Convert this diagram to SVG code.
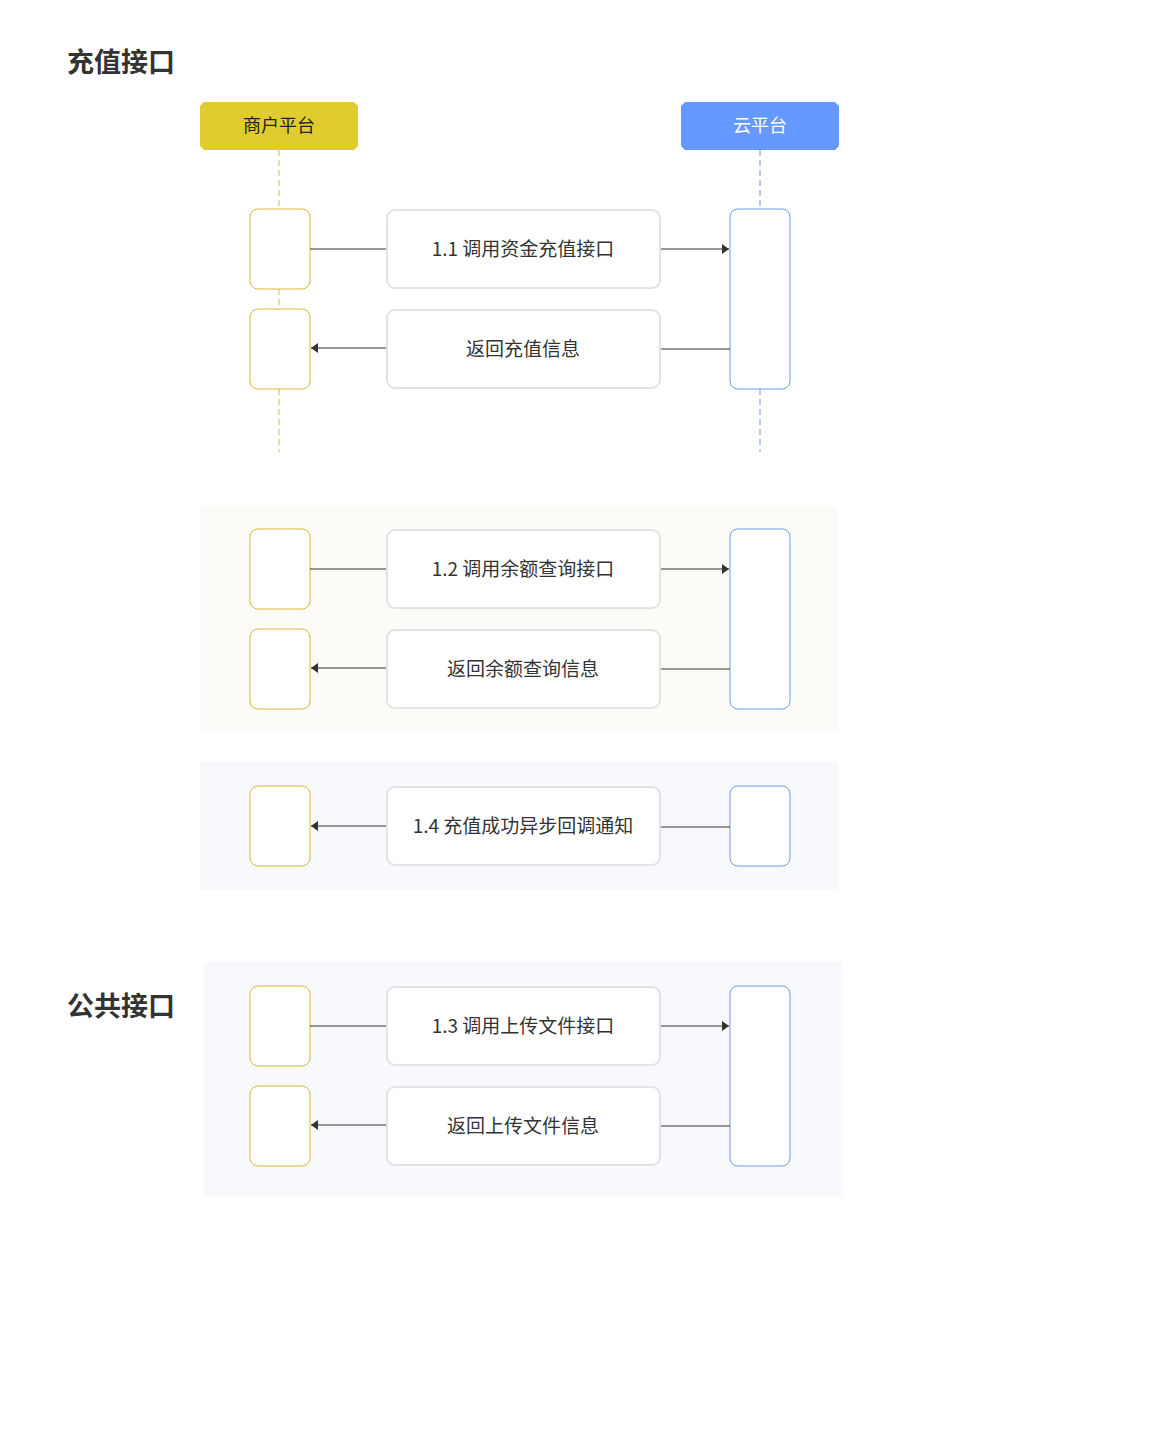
<svg xmlns="http://www.w3.org/2000/svg" width="1167" height="1455" viewBox="0 0 1167 1455">
<style>
text{font-family:"Noto Sans CJK SC","Noto Sans",sans-serif;}
.t{font-size:27px;font-weight:bold;fill:#333}
.m{fill:#fff;stroke:#e3e3e3;stroke-width:2}
.ml{font-size:19px;fill:#333;text-anchor:middle}
.y{fill:#fff;stroke:#d9b73a;stroke-width:1}
.b{fill:#fff;stroke:#6f9be8;stroke-width:1}
.c{stroke:#333;stroke-width:1;fill:none}
</style>
<defs><marker id="a" markerWidth="8" markerHeight="10" refX="7" refY="5" orient="auto" markerUnits="userSpaceOnUse"><path d="M0,0L7,5L0,10z" fill="#333"/></marker></defs>
<rect width="1167" height="1455" fill="#fff"/>
<text class="t" x="67" y="72">充值接口</text>
<text class="t" x="67" y="1016">公共接口</text>
<rect x="200" y="506" width="638" height="226" fill="#fcfbf7"/>
<rect x="200" y="762" width="638" height="128" fill="#f8f9fd"/>
<rect x="204" y="962" width="638" height="234" fill="#f8f9fd"/>
<g id="merchant"><path d="M204,102H354L358,106V146L354,150H204L200,146V106Z" fill="#e0cc2e"/><text x="279" y="132" font-size="18" fill="#222" text-anchor="middle">商户平台</text></g>
<g id="cloud"><path d="M685,102H835L839,106V146L835,150H685L681,146V106Z" fill="#6699ff"/><text x="760" y="132" font-size="18" fill="#fff" text-anchor="middle">云平台</text></g>
<g id="lifelines">
<path d="M279,150V209M279,289V309M279,389V452" stroke="#d9b73a" stroke-dasharray="6,4"/>
<path d="M760,150V209M760,389V452" stroke="#6f9be8" stroke-dasharray="6,4"/>
</g>
<g id="n1"><rect class="y" x="250" y="209" width="60" height="80" rx="8"/><rect class="b" x="730" y="209" width="60" height="180" rx="8"/><rect class="y" x="250" y="309" width="60" height="80" rx="8"/></g>
<g id="n2"><rect class="y" x="250" y="529" width="60" height="80" rx="8"/><rect class="b" x="730" y="529" width="60" height="180" rx="8"/><rect class="y" x="250" y="629" width="60" height="80" rx="8"/></g>
<g id="n3"><rect class="y" x="250" y="786" width="60" height="80" rx="8"/><rect class="b" x="730" y="786" width="60" height="80" rx="8"/></g>
<g id="n4"><rect class="y" x="250" y="986" width="60" height="80" rx="8"/><rect class="b" x="730" y="986" width="60" height="180" rx="8"/><rect class="y" x="250" y="1086" width="60" height="80" rx="8"/></g>
<g id="connectors">
<path class="c" d="M310,249H387M660,249H729" marker-end="url(#a)"/>
<path class="c" d="M730,349H660M387,348H311" marker-end="url(#a)"/>
<path class="c" d="M310,569H387M660,569H729" marker-end="url(#a)"/>
<path class="c" d="M730,669H660M387,668H311" marker-end="url(#a)"/>
<path class="c" d="M730,827H660M387,826H311" marker-end="url(#a)"/>
<path class="c" d="M310,1026H387M660,1026H729" marker-end="url(#a)"/>
<path class="c" d="M730,1126H660M387,1125H311" marker-end="url(#a)"/>
</g>
<g id="m1"><rect class="m" x="387" y="210" width="273" height="78" rx="8"/><text class="ml" x="523" y="256">1.1 调用资金充值接口</text></g>
<g id="m2"><rect class="m" x="387" y="310" width="273" height="78" rx="8"/><text class="ml" x="523" y="356">返回充值信息</text></g>
<g id="m3"><rect class="m" x="387" y="530" width="273" height="78" rx="8"/><text class="ml" x="523" y="576">1.2  调用余额查询接口</text></g>
<g id="m4"><rect class="m" x="387" y="630" width="273" height="78" rx="8"/><text class="ml" x="523" y="676">返回余额查询信息</text></g>
<g id="m5"><rect class="m" x="387" y="787" width="273" height="78" rx="8"/><text class="ml" x="523" y="833">1.4  充值成功异步回调通知</text></g>
<g id="m6"><rect class="m" x="387" y="987" width="273" height="78" rx="8"/><text class="ml" x="523" y="1033">1.3  调用上传文件接口</text></g>
<g id="m7"><rect class="m" x="387" y="1087" width="273" height="78" rx="8"/><text class="ml" x="523" y="1133">返回上传文件信息</text></g>
</svg>
